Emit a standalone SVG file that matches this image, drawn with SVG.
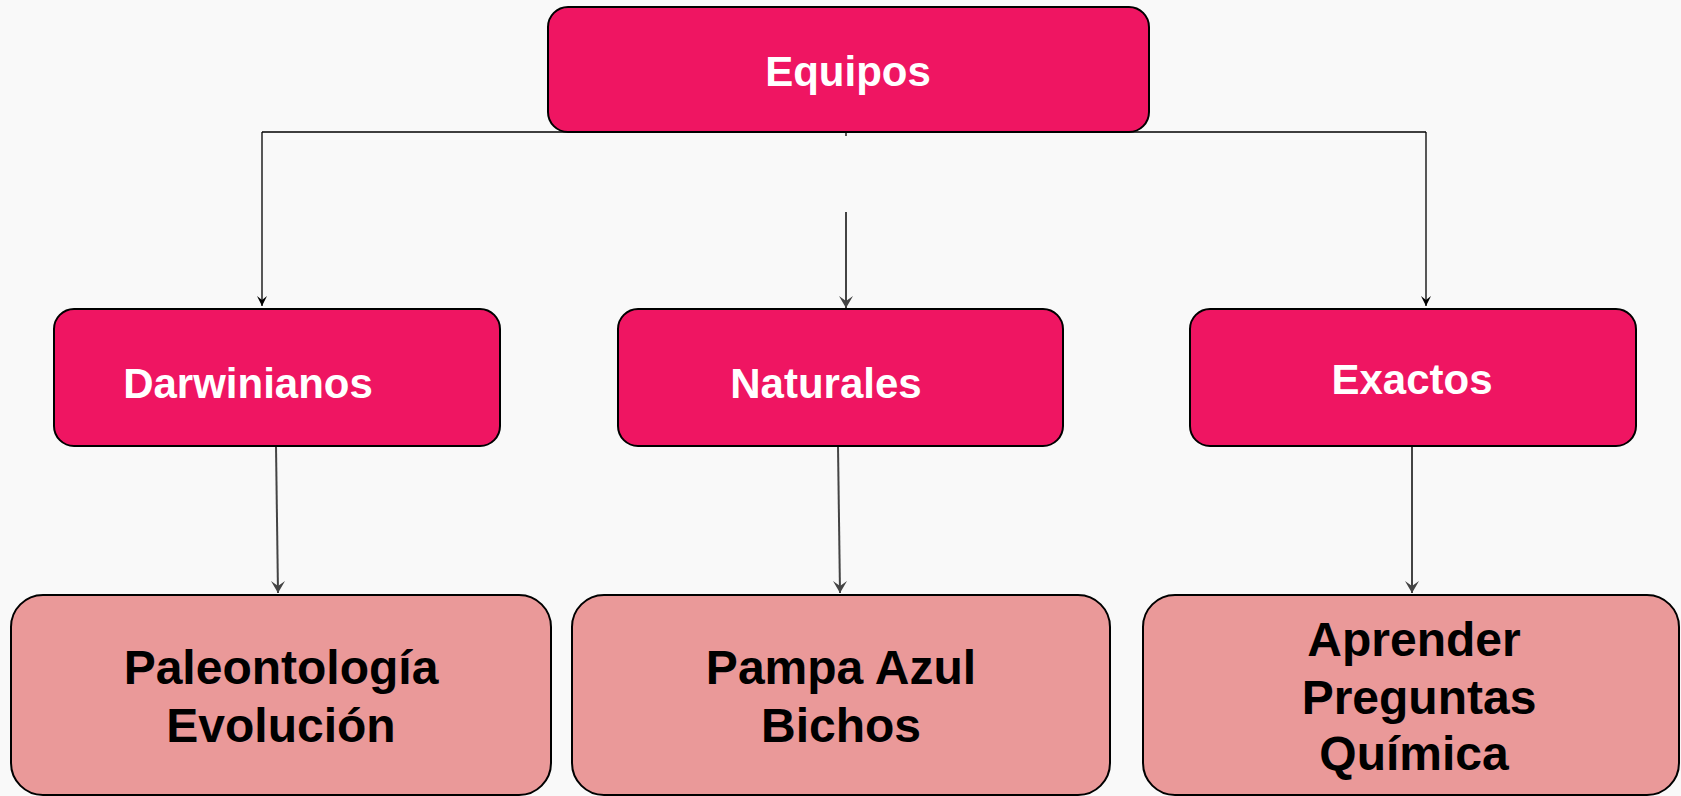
<svg xmlns="http://www.w3.org/2000/svg" width="1681" height="796" viewBox="0 0 1681 796">
<defs>
<style>
.top{fill:#EF1562;stroke:#000;stroke-width:2}
.leaf{fill:#EA9999;stroke:#000;stroke-width:2}
.wt{font-family:"Liberation Sans",Arial,sans-serif;font-weight:bold;font-size:42px;fill:#fff;text-anchor:middle}
.bt{font-family:"Liberation Sans",Arial,sans-serif;font-weight:bold;font-size:48px;fill:#000;text-anchor:middle}
.thin{fill:none;stroke:#000;stroke-width:1.3}
.gray{fill:none;stroke:#444;stroke-width:2}
</style>
<marker id="ab" markerWidth="12" markerHeight="12" refX="6" refY="11" markerUnits="userSpaceOnUse" viewBox="0 0 12 12">
<path d="M1,1 L6,11 L11,1 L6,5 Z" fill="#000"/>
</marker>
<marker id="ag" markerWidth="14" markerHeight="14" refX="7" refY="13" markerUnits="userSpaceOnUse" viewBox="0 0 14 14">
<path d="M0,1 L7,13 L14,1 L7,6 Z" fill="#444"/>
</marker>
</defs>
<rect width="1681" height="796" fill="#F9F9F9"/>
<g id="connectors">
<path class="thin" d="M262,132 H1426"/>
<path class="thin" d="M262,132 V306" marker-end="url(#ab)"/>
<path class="thin" d="M1426,132 V306" marker-end="url(#ab)"/>
<path class="thin" d="M846,132 V136"/>
<path class="gray" d="M846,212 V308" marker-end="url(#ag)"/>
<path class="gray" d="M276,446 L278,593" marker-end="url(#ag)"/>
<path class="gray" d="M838,446 L840,593" marker-end="url(#ag)"/>
<path class="gray" d="M1412,446 V593" marker-end="url(#ag)"/>
</g>
<g id="equipos">
<rect class="top" x="548" y="7" width="601" height="125" rx="20"/>
<text class="wt" x="848" y="86">Equipos</text>
</g>
<g id="darwinianos">
<rect class="top" x="54" y="309" width="446" height="137" rx="20"/>
<text class="wt" x="248" y="398">Darwinianos</text>
</g>
<g id="naturales">
<rect class="top" x="618" y="309" width="445" height="137" rx="20"/>
<text class="wt" x="826" y="398">Naturales</text>
</g>
<g id="exactos">
<rect class="top" x="1190" y="309" width="446" height="137" rx="20"/>
<text class="wt" x="1412" y="394">Exactos</text>
</g>
<g id="paleontologia">
<rect class="leaf" x="11" y="595" width="540" height="200" rx="32"/>
<text class="bt" x="281" y="684">Paleontología</text>
<text class="bt" x="281" y="742">Evolución</text>
</g>
<g id="pampa">
<rect class="leaf" x="572" y="595" width="538" height="200" rx="32"/>
<text class="bt" x="841" y="684">Pampa Azul</text>
<text class="bt" x="841" y="742">Bichos</text>
</g>
<g id="aprender">
<rect class="leaf" x="1143" y="595" width="536" height="200" rx="32"/>
<text class="bt" x="1414" y="656">Aprender</text>
<text class="bt" x="1419" y="714">Preguntas</text>
<text class="bt" x="1414" y="770">Química</text>
</g>
</svg>
